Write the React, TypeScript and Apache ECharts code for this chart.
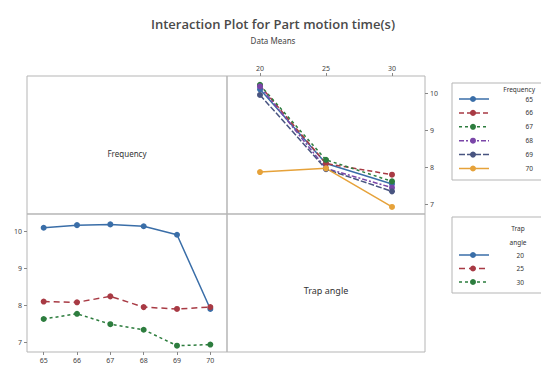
import React, { useEffect, useRef } from "react";
import * as echarts from "echarts";

const trapAngles = ["20", "25", "30"];
const frequencies = ["65", "66", "67", "68", "69", "70"];

// Upper-right panel: mean time per Frequency level, across Trap angle
const freq65 = [10.1, 8.1, 7.55];
const freq66 = [10.2, 8.1, 7.8];
const freq67 = [10.22, 8.2, 7.62];
const freq68 = [10.18, 7.97, 7.45];
const freq69 = [9.95, 7.95, 7.35];
const freq70 = [7.87, 7.97, 6.93];

// Lower-left panel: mean time per Trap angle level, across Frequency
const angle20 = [10.09, 10.16, 10.18, 10.13, 9.9, 7.9];
const angle25 = [8.1, 8.08, 8.24, 7.95, 7.9, 7.95];
const angle30 = [7.63, 7.77, 7.49, 7.34, 6.91, 6.94];

const yTicks = [7, 8, 9, 10];

const freqColors = ["#3a6ea8", "#a83a44", "#2d7d3e", "#7a46a8", "#485480", "#e6a23a"];
const freqDash: (number[] | "solid")[] = ["solid", [5, 3], [3, 3], [5, 2, 2, 2], [6, 2], "solid"];
const angleColors = ["#3a6ea8", "#a83a44", "#2d7d3e"];
const angleDash: (number[] | "solid")[] = ["solid", [6, 4], [3, 3]];

export default function App() {
  const ref = useRef<HTMLDivElement>(null);
  useEffect(() => {
    if (!ref.current) return;
    const chart = echarts.init(ref.current, undefined, { renderer: "svg" });
    const freqData = [freq65, freq66, freq67, freq68, freq69, freq70];
    const angleData = [angle20, angle25, angle30];
    const font = "Noto Sans";
    const axisText = { fontSize: 7, color: "#444", fontFamily: font };
    const borderColor = "#b5b5b5";

    const series: any[] = [];
    freqData.forEach((d, i) => {
      series.push({
        type: "line",
        name: "F" + frequencies[i],
        xAxisIndex: 0,
        yAxisIndex: 0,
        data: d,
        symbol: "circle",
        symbolSize: 6,
        lineStyle: { color: freqColors[i], width: 1.5, type: freqDash[i] },
        itemStyle: { color: freqColors[i] },
      });
    });
    angleData.forEach((d, i) => {
      series.push({
        type: "line",
        name: "A" + trapAngles[i],
        xAxisIndex: 1,
        yAxisIndex: 1,
        data: d,
        symbol: "circle",
        symbolSize: 6,
        lineStyle: { color: angleColors[i], width: 1.5, type: angleDash[i] },
        itemStyle: { color: angleColors[i] },
      });
    });

    const graphics: any[] = [
      { type: "rect", shape: { x: 27, y: 76, width: 200, height: 138 }, style: { fill: "none", stroke: borderColor, lineWidth: 1 } },
      { type: "rect", shape: { x: 227, y: 214, width: 198, height: 138 }, style: { fill: "none", stroke: borderColor, lineWidth: 1 } },
      { type: "text", x: 127, y: 153, style: { text: "Frequency", font: `8px "${font}"`, fill: "#333", align: "center", verticalAlign: "middle" } },
      { type: "text", x: 326, y: 290, style: { text: "Trap angle", font: `9px "${font}"`, fill: "#333", align: "center", verticalAlign: "middle" } },
      { type: "text", x: 273, y: 24, style: { text: "Interaction Plot for Part motion time(s)", font: `600 13px "Open Sans"`, fill: "#4a4a4a", align: "center", verticalAlign: "middle" } },
      { type: "text", x: 273, y: 40, style: { text: "Data Means", font: `8px "${font}"`, fill: "#444", align: "center", verticalAlign: "middle" } },
    ];

    // Legend 1: Frequency
    graphics.push({ type: "rect", shape: { x: 452, y: 83, width: 100, height: 97 }, style: { fill: "#fff", stroke: borderColor, lineWidth: 1 } });
    graphics.push({ type: "text", x: 535, y: 89, style: { text: "Frequency", font: `6.5px "${font}"`, fill: "#333", align: "right", verticalAlign: "middle" } });
    frequencies.forEach((f, i) => {
      const y = 99 + i * 13.9;
      graphics.push({ type: "line", shape: { x1: 459, y1: y, x2: 489, y2: y }, style: { stroke: freqColors[i], lineWidth: 1.5, lineDash: freqDash[i] === "solid" ? null : freqDash[i] } });
      graphics.push({ type: "circle", shape: { cx: 473, cy: y, r: 3 }, style: { fill: freqColors[i] } });
      graphics.push({ type: "text", x: 533, y, style: { text: f, font: `6.5px "${font}"`, fill: "#333", align: "right", verticalAlign: "middle" } });
    });

    // Legend 2: Trap angle
    graphics.push({ type: "rect", shape: { x: 452, y: 217, width: 100, height: 76 }, style: { fill: "#fff", stroke: borderColor, lineWidth: 1 } });
    graphics.push({ type: "text", x: 518, y: 228, style: { text: "Trap", font: `6.5px "${font}"`, fill: "#333", align: "center", verticalAlign: "middle" } });
    graphics.push({ type: "text", x: 518, y: 242, style: { text: "angle", font: `6.5px "${font}"`, fill: "#333", align: "center", verticalAlign: "middle" } });
    trapAngles.forEach((a, i) => {
      const y = 255 + i * 13.5;
      graphics.push({ type: "line", shape: { x1: 459, y1: y, x2: 489, y2: y }, style: { stroke: angleColors[i], lineWidth: 1.5, lineDash: angleDash[i] === "solid" ? null : angleDash[i] } });
      graphics.push({ type: "circle", shape: { cx: 473, cy: y, r: 3 }, style: { fill: angleColors[i] } });
      graphics.push({ type: "text", x: 524, y, style: { text: a, font: `6.5px "${font}"`, fill: "#333", align: "right", verticalAlign: "middle" } });
    });

    const yAxisCommon = {
      type: "value",
      min: 6.74,
      max: 10.46,
      splitLine: { show: false },
      axisLine: { show: false },
      axisTick: { show: true, length: 3, lineStyle: { color: "#888" }, customValues: yTicks },
      axisLabel: { ...axisText, margin: 5, customValues: yTicks },
    };

    chart.setOption({
      animation: false,
      grid: [
        { left: 227, top: 76, width: 198, height: 138, show: true, borderColor, borderWidth: 1, containLabel: false },
        { left: 27, top: 214, width: 200, height: 138, show: true, borderColor, borderWidth: 1, containLabel: false },
      ],
      xAxis: [
        {
          type: "category",
          gridIndex: 0,
          data: trapAngles,
          position: "top",
          boundaryGap: true,
          axisLine: { show: false },
          axisTick: { show: true, alignWithLabel: true, length: 3, lineStyle: { color: "#888" } },
          axisLabel: { ...axisText, margin: 4 },
        },
        {
          type: "category",
          gridIndex: 1,
          data: frequencies,
          position: "bottom",
          boundaryGap: true,
          axisLine: { show: false },
          axisTick: { show: true, alignWithLabel: true, length: 3, lineStyle: { color: "#888" } },
          axisLabel: { ...axisText, margin: 5 },
        },
      ],
      yAxis: [
        { ...yAxisCommon, gridIndex: 0, position: "right" },
        { ...yAxisCommon, gridIndex: 1, position: "left" },
      ],
      series,
      graphic: graphics,
    });
    return () => chart.dispose();
  }, []);
  return (
    <div
      ref={ref}
      style={{ position: "fixed", left: 0, top: 0, width: 541, height: 367, background: "#fff" }}
    />
  );
}
